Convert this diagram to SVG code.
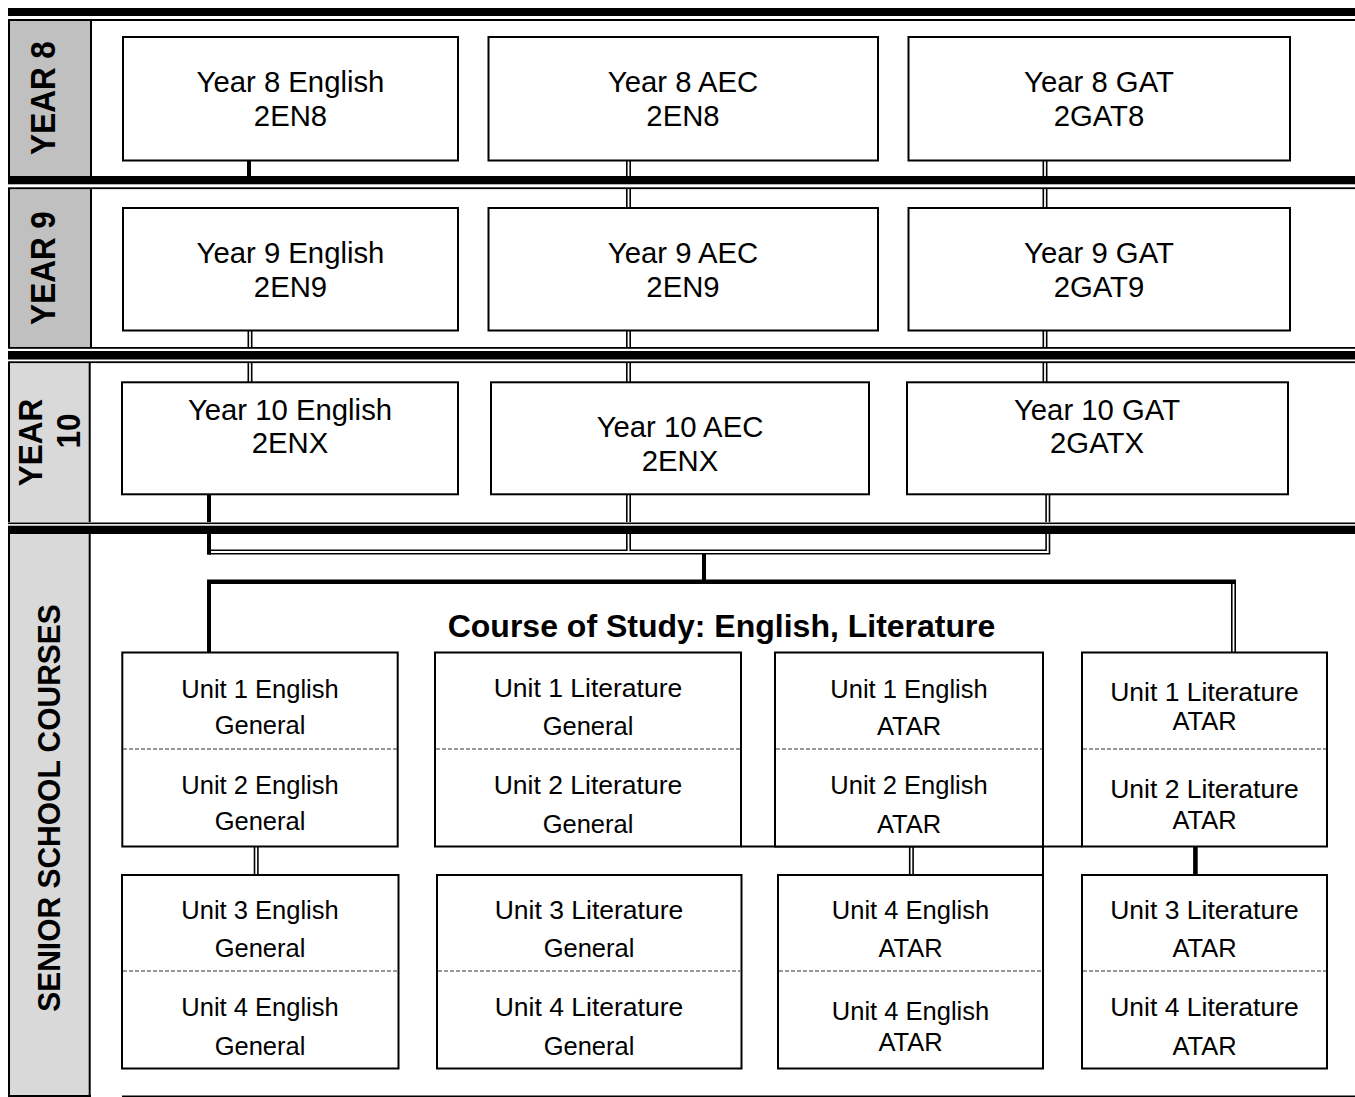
<svg xmlns="http://www.w3.org/2000/svg" width="1355" height="1097" viewBox="0 0 1355 1097">
<style>
.box{fill:#fff;stroke:#000;stroke-width:2}
.t{font-family:"Liberation Sans",Arial,sans-serif;font-size:29.3px;fill:#000;text-anchor:middle}
.u{font-family:"Liberation Sans",Arial,sans-serif;font-size:25.5px;fill:#000;text-anchor:middle}
.lit{font-size:26.5px}
.lbl{font-family:"Liberation Sans",Arial,sans-serif;font-weight:bold;font-size:31.5px;fill:#000;text-anchor:middle}
.title{font-family:"Liberation Sans",Arial,sans-serif;font-weight:bold;font-size:32px;fill:#000;text-anchor:middle}
.dash{stroke:#333;stroke-width:1.2;stroke-dasharray:4 2;fill:none}
.thick{stroke:#000;stroke-width:4;fill:none}
.dO{stroke:#000;stroke-width:5;fill:none}
.dI{stroke:#fff;stroke-width:1.8;fill:none}
.col{stroke:#000;stroke-width:2}
</style>
<rect x="0" y="0" width="1355" height="1097" fill="#fff"/>

<!-- label column fills -->
<g id="labels">
<rect x="9" y="21" width="82" height="155" fill="#c0c0c0"/>
<rect x="9" y="189" width="82" height="158" fill="#c0c0c0"/>
<rect x="9" y="363" width="81" height="159" fill="#d9d9d9"/>
<rect x="9" y="534" width="81" height="562" fill="#d9d9d9"/>
<line class="col" x1="9" y1="20" x2="9" y2="1097"/>
<line class="col" x1="91" y1="20" x2="91" y2="350"/>
<line class="col" x1="89.7" y1="350" x2="89.7" y2="1097"/>
<line class="col" x1="8" y1="1096" x2="91" y2="1096"/>
<text class="lbl" transform="translate(55,98) rotate(-90) scale(1,1.12)">YEAR 8</text>
<text class="lbl" transform="translate(55,268) rotate(-90) scale(1,1.12)">YEAR 9</text>
<text class="lbl" transform="translate(41.5,442.5) rotate(-90) scale(1,1.05)">YEAR</text>
<text class="lbl" transform="translate(80,431) rotate(-90) scale(1,1.05)">10</text>
<text class="lbl" style="font-size:30px" transform="translate(60,808) rotate(-90) scale(1,1.05)">SENIOR SCHOOL COURSES</text>
</g>

<!-- connectors -->
<g id="connectors">
<!-- Year 8 to Year 9 -->
<line class="thick" x1="249" y1="160" x2="249" y2="177"/>
<line class="dO" x1="628.5" y1="160" x2="628.5" y2="209"/>
<line class="dI" x1="628.5" y1="161" x2="628.5" y2="208"/>
<line class="dO" x1="1045" y1="160" x2="1045" y2="209"/>
<line class="dI" x1="1045" y1="161" x2="1045" y2="208"/>
<!-- Year 9 to Year 10 -->
<line class="dO" x1="250" y1="330" x2="250" y2="383"/>
<line class="dI" x1="250" y1="331" x2="250" y2="382"/>
<line class="dO" x1="628.5" y1="330" x2="628.5" y2="383"/>
<line class="dI" x1="628.5" y1="331" x2="628.5" y2="382"/>
<line class="dO" x1="1045" y1="330" x2="1045" y2="383"/>
<line class="dI" x1="1045" y1="331" x2="1045" y2="382"/>
<!-- Year 10 to Senior -->
<line class="dO" x1="628.5" y1="494" x2="628.5" y2="552"/>
<path class="dO" d="M1047.8 494 V552 H209"/>
<line class="dI" x1="628.5" y1="495" x2="628.5" y2="552"/>
<path class="dI" d="M1047.8 495 V552 H211"/>
<line class="thick" x1="209" y1="494" x2="209" y2="554.7"/>
<line class="thick" x1="704" y1="554" x2="704" y2="582"/>
<line x1="207" y1="581.7" x2="1236" y2="581.7" stroke="#000" stroke-width="4.6"/>
<line class="thick" x1="209" y1="580" x2="209" y2="653"/>
<line class="dO" x1="1233.5" y1="580" x2="1233.5" y2="653"/>
<line class="dI" x1="1233.5" y1="584" x2="1233.5" y2="652"/>
<!-- Unit row 1 to row 2 -->
<line class="dO" x1="256.2" y1="846" x2="256.2" y2="876"/>
<line class="dI" x1="256.2" y1="847" x2="256.2" y2="875"/>
<line class="dO" x1="911.4" y1="846" x2="911.4" y2="876"/>
<line class="dI" x1="911.4" y1="847" x2="911.4" y2="875"/>
<line x1="1195.4" y1="846" x2="1195.4" y2="876" stroke="#000" stroke-width="4.6"/>
<line x1="741" y1="846.5" x2="1082" y2="846.5" stroke="#000" stroke-width="2"/>
<line x1="1043" y1="846" x2="1043" y2="876" stroke="#000" stroke-width="2"/>
</g>

<!-- horizontal bands -->
<g id="bands">
<rect x="8" y="8" width="1347" height="8" fill="#000"/>
<rect x="8" y="19" width="1347" height="2" fill="#000"/>
<rect x="8" y="176" width="1347" height="13" fill="#fff"/>
<rect x="8" y="176" width="1347" height="8.3" fill="#000"/>
<rect x="8" y="187.3" width="1347" height="1.8" fill="#000"/>
<rect x="8" y="347" width="1347" height="16" fill="#fff"/>
<rect x="8" y="347" width="1347" height="1.8" fill="#000"/>
<rect x="8" y="351" width="1347" height="8.5" fill="#000"/>
<rect x="8" y="361.3" width="1347" height="1.8" fill="#000"/>
<rect x="8" y="522" width="1347" height="12" fill="#fff"/>
<rect x="8" y="522.5" width="1347" height="1.6" fill="#000"/>
<rect x="8" y="525.7" width="1347" height="8.3" fill="#000"/>
<line x1="122" y1="1096.2" x2="1355" y2="1096.2" stroke="#000" stroke-width="1.5"/>
</g>

<!-- Year 8 -->
<g id="y8-english"><rect class="box" x="123" y="37" width="335" height="123.5"/><text class="t" x="290.5" y="92">Year 8 English</text><text class="t" x="290.5" y="126">2EN8</text></g>
<g id="y8-aec"><rect class="box" x="488.5" y="37" width="389.5" height="123.5"/><text class="t" x="683" y="92">Year 8 AEC</text><text class="t" x="683" y="126">2EN8</text></g>
<g id="y8-gat"><rect class="box" x="908.5" y="37" width="381.5" height="123.5"/><text class="t" x="1099" y="92">Year 8 GAT</text><text class="t" x="1099" y="126">2GAT8</text></g>

<!-- Year 9 -->
<g id="y9-english"><rect class="box" x="123" y="208" width="335" height="122.5"/><text class="t" x="290.5" y="263">Year 9 English</text><text class="t" x="290.5" y="297">2EN9</text></g>
<g id="y9-aec"><rect class="box" x="488.5" y="208" width="389.5" height="122.5"/><text class="t" x="683" y="263">Year 9 AEC</text><text class="t" x="683" y="297">2EN9</text></g>
<g id="y9-gat"><rect class="box" x="908.5" y="208" width="381.5" height="122.5"/><text class="t" x="1099" y="263">Year 9 GAT</text><text class="t" x="1099" y="297">2GAT9</text></g>

<!-- Year 10 -->
<g id="y10-english"><rect class="box" x="122" y="382.3" width="336" height="112"/><text class="t" x="290" y="420">Year 10 English</text><text class="t" x="290" y="453">2ENX</text></g>
<g id="y10-aec"><rect class="box" x="491" y="382.3" width="378" height="112"/><text class="t" x="680" y="437">Year 10 AEC</text><text class="t" x="680" y="471">2ENX</text></g>
<g id="y10-gat"><rect class="box" x="907" y="382.3" width="381" height="112"/><text class="t" x="1097" y="420">Year 10 GAT</text><text class="t" x="1097" y="453">2GATX</text></g>

<!-- Senior title -->
<g id="course-title"><text class="title" x="721.5" y="637">Course of Study: English, Literature</text></g>

<!-- Unit row 1 -->
<g id="u12-english-general"><rect class="box" x="122.3" y="652.5" width="275.4" height="194"/><line class="dash" x1="123" y1="749" x2="397" y2="749"/>
<text class="u" x="260" y="697.5">Unit 1 English</text><text class="u" x="260" y="734">General</text><text class="u" x="260" y="793.5">Unit 2 English</text><text class="u" x="260" y="830">General</text></g>
<g id="u12-literature-general"><rect class="box" x="435" y="652.5" width="306" height="194"/><line class="dash" x1="436" y1="749" x2="740" y2="749"/>
<text class="u lit" x="588" y="697">Unit 1 Literature</text><text class="u" x="588" y="735">General</text><text class="u lit" x="588" y="794">Unit 2 Literature</text><text class="u" x="588" y="833">General</text></g>
<g id="u12-english-atar"><rect class="box" x="775" y="652.5" width="268" height="194"/><line class="dash" x1="776" y1="749" x2="1042" y2="749"/>
<text class="u" x="909" y="697.5">Unit 1 English</text><text class="u" x="909" y="734.5">ATAR</text><text class="u" x="909" y="793.5">Unit 2 English</text><text class="u" x="909" y="832.5">ATAR</text></g>
<g id="u12-literature-atar"><rect class="box" x="1082" y="652.5" width="245" height="194"/><line class="dash" x1="1083" y1="749" x2="1326" y2="749"/>
<text class="u lit" x="1204.5" y="701">Unit 1 Literature</text><text class="u" x="1204.5" y="730">ATAR</text><text class="u lit" x="1204.5" y="798">Unit 2 Literature</text><text class="u" x="1204.5" y="829">ATAR</text></g>

<!-- Unit row 2 -->
<g id="u34-english-general"><rect class="box" x="122" y="875" width="276.5" height="193.5"/><line class="dash" x1="123" y1="971" x2="397" y2="971"/>
<text class="u" x="260" y="919">Unit 3 English</text><text class="u" x="260" y="957">General</text><text class="u" x="260" y="1015.5">Unit 4 English</text><text class="u" x="260" y="1055">General</text></g>
<g id="u34-literature-general"><rect class="box" x="437" y="875" width="304.5" height="193.5"/><line class="dash" x1="438" y1="971" x2="740" y2="971"/>
<text class="u lit" x="589" y="919">Unit 3 Literature</text><text class="u" x="589" y="957">General</text><text class="u lit" x="589" y="1016">Unit 4 Literature</text><text class="u" x="589" y="1055">General</text></g>
<g id="u34-english-atar"><rect class="box" x="778" y="875" width="265" height="193.5"/><line class="dash" x1="779" y1="971" x2="1042" y2="971"/>
<text class="u" x="910.5" y="919">Unit 4 English</text><text class="u" x="910.5" y="957">ATAR</text><text class="u" x="910.5" y="1020">Unit 4 English</text><text class="u" x="910.5" y="1051">ATAR</text></g>
<g id="u34-literature-atar"><rect class="box" x="1082" y="875" width="245" height="193.5"/><line class="dash" x1="1083" y1="971" x2="1326" y2="971"/>
<text class="u lit" x="1204.5" y="919">Unit 3 Literature</text><text class="u" x="1204.5" y="957">ATAR</text><text class="u lit" x="1204.5" y="1016">Unit 4 Literature</text><text class="u" x="1204.5" y="1055">ATAR</text></g>
</svg>
